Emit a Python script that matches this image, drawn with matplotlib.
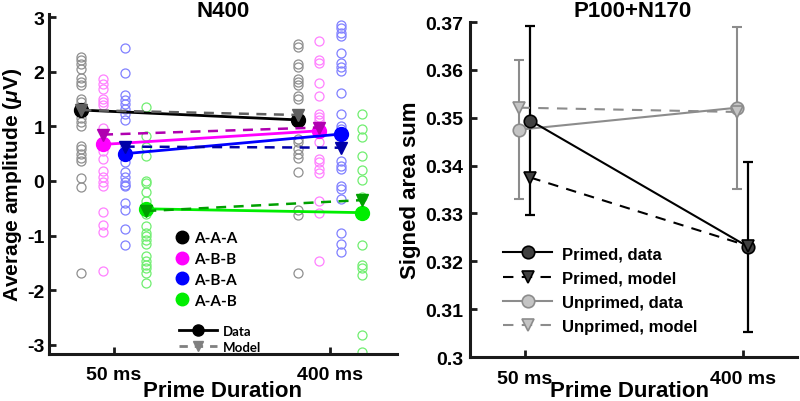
import matplotlib
matplotlib.use("Agg")
import matplotlib.pyplot as plt
from matplotlib.lines import Line2D

plt.rcParams['font.family'] = ['Liberation Sans', 'DejaVu Sans']
plt.rcParams['font.weight'] = 'bold'
plt.rcParams['mathtext.fontset'] = 'custom'
plt.rcParams['mathtext.it'] = 'Liberation Sans:italic:bold'
plt.rcParams['mathtext.rm'] = 'Liberation Sans:bold'

# ---------------- Data: N400 panel ----------------
durations = ["50 ms", "400 ms"]
conditions = ["A-A-A", "A-B-B", "A-B-A", "A-A-B"]

# individual subject values [50 ms, 400 ms]
aaa_50 = [2.28, 2.22, 2.14, 2.05, 1.89, 1.81, 1.75, 1.50, 1.44, 1.28, 1.16, 1.09, 1.00,
          0.65, 0.58, 0.49, 0.42, 0.36, 0.06, -0.11, -1.69]
aaa_400 = [2.51, 2.45, 2.14, 2.08, 1.87, 1.81, 1.75, 1.56, 1.50, 1.15, 0.77, 0.71, 0.59,
           0.49, 0.43, 0.16, -0.54, -0.62, -1.69]
abb_50 = [1.86, 1.77, 1.69, 1.50, 1.44, 1.40, 0.98, 0.68, 0.55, 0.40, 0.19, 0.07, -0.02,
          -0.10, -0.57, -0.81, -0.93, -1.65]
abb_400 = [2.57, 2.22, 2.17, 1.80, 1.55, 1.23, 1.17, 1.12, 0.92, 0.71, 0.40, 0.34, 0.22,
           0.14, -0.37, -0.59, -1.47]
aba_50 = [2.43, 1.97, 1.58, 1.48, 1.41, 1.32, 1.23, 1.12, 0.62, 0.48, 0.34, 0.16, 0.07,
          -0.02, -0.07, -0.10, -0.40, -0.53, -0.88, -1.17]
aba_400 = [2.86, 2.80, 2.72, 2.65, 2.35, 2.16, 2.09, 2.01, 1.61, 1.23, 1.01, 0.95, 0.37,
           0.28, 0.22, -0.10, -0.15, -0.33, -0.96, -1.15, -1.30]
aab_50 = [1.36, 0.83, 0.63, 0.45, 0.00, -0.04, -0.21, -0.36, -0.50, -0.60, -0.83, -0.95,
          -1.01, -1.09, -1.15, -1.38, -1.46, -1.54, -1.60, -1.69, -1.87]
aab_400 = [1.23, 0.95, 0.81, 0.46, 0.20, 0.02, -0.30, -0.58, -1.17, -1.54, -1.60, -1.73,
           -2.83, -3.14]

# condition means: data and model [50 ms, 400 ms]
data_aaa = [1.30, 1.12]
data_abb = [0.67, 0.92]
data_aba = [0.50, 0.86]
data_aab = [-0.51, -0.58]
model_aaa = [1.30, 1.21]
model_abb = [0.85, 0.98]
model_aba = [0.63, 0.61]
model_aab = [-0.55, -0.35]

# ---------------- Data: P100+N170 panel ----------------
primed_data = [0.3494, 0.3230]
primed_err = [0.0198, 0.0178]
primed_model = [0.3375, 0.3232]
unprimed_data = [0.3475, 0.3521]
unprimed_err = [0.0145, 0.0169]
unprimed_model = [0.3521, 0.3512]

# ---------------- Styles ----------------
light_cols = ['#8f8f8f', '#ff80ff', '#8080ff', '#70ee70']
data_cols = ['#000000', '#ff00ff', '#0000ff', '#00ee00']
model_cols = ['#606060', '#b000b0', '#0000a8', '#00a000']
offsets = [-0.15, -0.05, 0.05, 0.15]
base_x = [1, 2]

W, H = 800, 402
fig = plt.figure(figsize=(8, 4.02), dpi=100)
ax1 = fig.add_axes([49/W, 1-355/H, (397-49)/W, (355-15)/H])
ax2 = fig.add_axes([470/W, 1-358/H, (797-470)/W, (358-23)/H])

indiv = [(aaa_50, aaa_400), (abb_50, abb_400), (aba_50, aba_400), (aab_50, aab_400)]
datas = [data_aaa, data_abb, data_aba, data_aab]
models = [model_aaa, model_abb, model_aba, model_aab]

for i in range(4):
    for j, vals in enumerate(indiv[i]):
        x = base_x[j] + offsets[i]
        ax1.plot([x]*len(vals), vals, ls='none', marker='o', ms=6.5, mfc='none',
                 mec=light_cols[i], mew=0.9, zorder=1)
for i in range(4):
    xs = [b + offsets[i] for b in base_x]
    ax1.plot(xs, datas[i], '-', color=data_cols[i], lw=2.0, marker='o', ms=10,
             mfc=data_cols[i], mec=data_cols[i], zorder=3)
for i in range(4):
    xs = [b + offsets[i] for b in base_x]
    ax1.plot(xs, models[i], '--', color=model_cols[i], lw=1.8, dashes=(4, 3), marker='v',
             ms=8, mfc=model_cols[i], mec=model_cols[i], zorder=4)

ax1.set_xlim(0.70, 2.31)
ax1.set_ylim(-3.17, 3.06)
ax1.set_yticks([-3, -2, -1, 0, 1, 2, 3])
ax1.set_yticklabels(['-3', '-2', '-1', '0', '1', '2', '3'])
ax1.set_xticks(base_x)
ax1.set_xticklabels(durations)
ax1.set_ylabel(r'Average amplitude ($\mu$V)', fontsize=15, fontweight='bold')
ax1.yaxis.set_label_coords(24/W, 0.5 * (2 - 355/H - 15/H), transform=fig.transFigure)
fig.text(223/W, 1-17/H, 'N400', ha='center', va='baseline', fontsize=16, fontweight='bold')
fig.text(222/W, 1-397/H, 'Prime Duration', ha='center', va='baseline', fontsize=16,
         fontweight='bold')

h1 = [Line2D([], [], ls='none', marker='o', ms=9, color=c) for c in data_cols]
leg1 = ax1.legend(h1, conditions, loc='upper left', bbox_to_anchor=(176/W, 1-232/H),
                  bbox_transform=fig.transFigure, frameon=False, borderpad=0, borderaxespad=0,
                  handlelength=0.8, handletextpad=0.4, labelspacing=0.45,
                  prop={'family': 'Lato', 'weight': 'bold', 'size': 11})
ax1.add_artist(leg1)
h2 = [Line2D([], [], ls='-', color='black', lw=2, marker='o', ms=8),
      Line2D([], [], ls='--', color='#808080', lw=2, dashes=(3, 2.5), marker='v', ms=7)]
ax1.legend(h2, ['Data', 'Model'], loc='upper left', bbox_to_anchor=(179/W, 1-326/H),
           bbox_transform=fig.transFigure, frameon=False, borderpad=0, borderaxespad=0,
           handlelength=2.9, handletextpad=0.4, labelspacing=0.3,
           prop={'family': 'Lato', 'weight': 'bold', 'size': 9.5})

# ---------------- Right panel ----------------
xp = [b + 0.025 for b in base_x]
xu = [b - 0.025 for b in base_x]
gray = '#8c8c8c'
ax2.errorbar(xu, unprimed_data, yerr=unprimed_err, fmt='none', ecolor=gray, elinewidth=1.5,
             capsize=3.5, capthick=1.5, zorder=1)
ax2.errorbar(xp, primed_data, yerr=primed_err, fmt='none', ecolor='black', elinewidth=1.6,
             capsize=3.5, capthick=1.6, zorder=2)
l_ud, = ax2.plot(xu, unprimed_data, '-', color=gray, lw=1.5, marker='o', ms=9,
                 mfc='#c4c4c4', mec=gray, mew=1.2, zorder=3)
l_um, = ax2.plot(xu, unprimed_model, '--', color=gray, lw=1.5, dashes=(5, 4), marker='v', ms=9,
                 mfc='#c4c4c4', mec=gray, mew=1.2, zorder=3)
l_pd, = ax2.plot(xp, primed_data, '-', color='black', lw=1.5, marker='o', ms=9,
                 mfc='#404040', mec='black', mew=1.2, zorder=4)
l_pm, = ax2.plot(xp, primed_model, '--', color='black', lw=1.5, dashes=(5, 4), marker='v', ms=9,
                 mfc='#404040', mec='black', mew=1.2, zorder=4)
ax2.set_xlim(0.748, 2.248)
ax2.set_ylim(0.3, 0.37)
yt2 = [0.30, 0.31, 0.32, 0.33, 0.34, 0.35, 0.36, 0.37]
ax2.set_yticks(yt2)
ax2.set_yticklabels(['0.3', '0.31', '0.32', '0.33', '0.34', '0.35', '0.36', '0.37'])
ax2.set_xticks(base_x)
ax2.set_xticklabels(durations)
ax2.set_ylabel('Signed area sum', fontsize=16, fontweight='bold')
ax2.yaxis.set_label_coords(421/W, 0.5 * (2 - 358/H - 23/H), transform=fig.transFigure)
fig.text(633/W, 1-17/H, 'P100+N170', ha='center', va='baseline', fontsize=16,
         fontweight='bold')
fig.text(630/W, 1-397/H, 'Prime Duration', ha='center', va='baseline', fontsize=16,
         fontweight='bold')
ax2.legend([l_pd, l_pm, l_ud, l_um],
           ['Primed, data', 'Primed, model', 'Unprimed, data', 'Unprimed, model'],
           loc='upper left', bbox_to_anchor=(503/W, 1-247/H), bbox_transform=fig.transFigure,
           frameon=False, borderpad=0, borderaxespad=0, handlelength=2.95, handletextpad=0.6,
           labelspacing=0.56, prop={'weight': 'bold', 'size': 12})

for ax, ypad in ((ax1, 3.5), (ax2, 5)):
    for s in ('top', 'right'):
        ax.spines[s].set_visible(False)
    for s in ('left', 'bottom'):
        ax.spines[s].set_linewidth(2.2)
        ax.spines[s].set_color('#1a1a1a')
    ax.tick_params(direction='in', length=5, width=2, labelsize=14, color='#1a1a1a')
    ax.tick_params(axis='x', pad=9)
    ax.tick_params(axis='y', pad=ypad)
    for lab in ax.get_xticklabels() + ax.get_yticklabels():
        lab.set_fontweight('bold')

fig.savefig('out.png', dpi=100)
